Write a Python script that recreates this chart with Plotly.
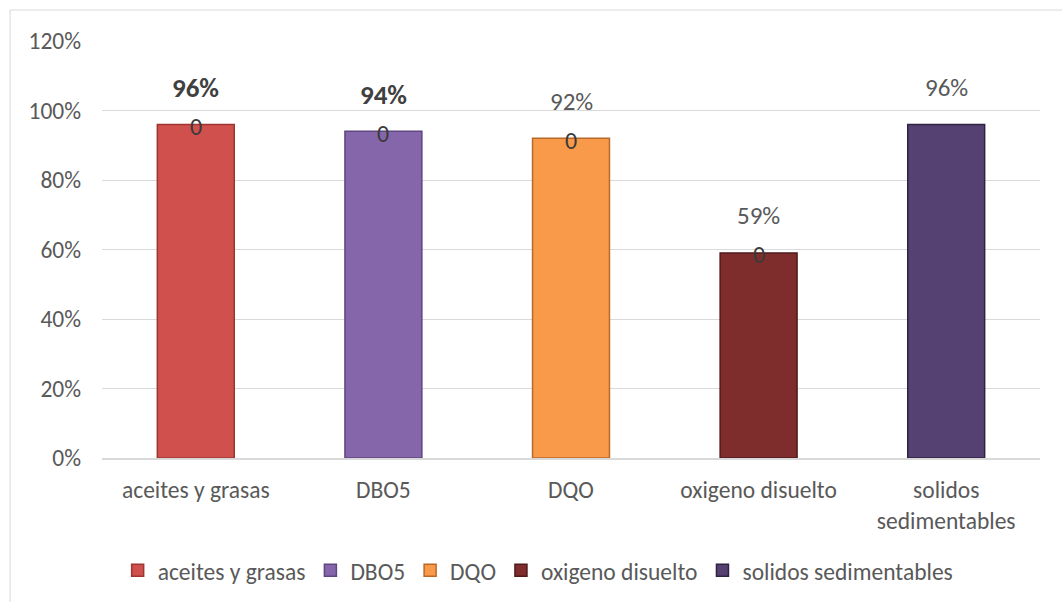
import plotly.graph_objects as go

categories = ["aceites y grasas", "DBO5", "DQO", "oxigeno disuelto", "solidos sedimentables"]
tick_labels = ["aceites y grasas", "DBO5", "DQO", "oxigeno disuelto", "solidos<br>sedimentables"]
values = [0.96, 0.94, 0.92, 0.59, 0.96]
pct_labels = ["96%", "94%", "92%", "59%", "96%"]
pct_bold = [True, True, False, False, False]
zero_labels = ["0", "0", "0", "0", ""]

colors = ["#CF504C", "#8566AA", "#F99A4A", "#7F2D2C", "#564272"]
edge_colors = ["#9E3532", "#5F4680", "#B8692A", "#4E1A19", "#2E2340"]

FONT = "Carlito, Calibri, Lato, sans-serif"
GRAY = "#595959"

fig = go.Figure()
for i, cat in enumerate(categories):
    fig.add_trace(go.Bar(
        x=[tick_labels[i]], y=[values[i]], name=cat,
        marker=dict(color=colors[i], line=dict(color=edge_colors[i], width=1.5)),
        width=0.41, showlegend=True, hoverinfo="y",
    ))

annotations = []
for i in range(len(categories)):
    annotations.append(dict(
        x=tick_labels[i], y=values[i], xref="x", yref="y",
        text=f"<b>{pct_labels[i]}</b>" if pct_bold[i] else pct_labels[i],
        showarrow=False, yshift=37,
        font=dict(family=FONT, size=27 if pct_bold[i] else 25,
                  color="#404040" if pct_bold[i] else GRAY),
    ))
    if zero_labels[i]:
        annotations.append(dict(
            x=tick_labels[i], y=values[i], xref="x", yref="y",
            text=zero_labels[i], showarrow=False, yshift=-2,
            font=dict(family=FONT, size=24, color="#3A3A3A"),
        ))

fig.update_layout(
    width=1062, height=602,
    margin=dict(l=102, r=22, t=41, b=144, autoexpand=False),
    barmode="overlay",
    plot_bgcolor="white", paper_bgcolor="white",
    font=dict(family=FONT, size=23.5, color=GRAY),
    annotations=annotations,
    legend=dict(orientation="h", x=0.465, xanchor="center", y=-0.27, yanchor="middle",
                font=dict(family=FONT, size=23.5, color=GRAY), traceorder="normal",
                itemwidth=30),
    shapes=[dict(type="rect", xref="paper", yref="paper",
                 x0=-0.098, x1=1.04, y0=-0.37, y1=1.0743,
                 line=dict(color="#D9D9D9", width=1), layer="below")],
    bargap=0.59,
)
fig.update_yaxes(range=[0, 1.2], dtick=0.2, tickformat=".0%", showgrid=True,
                 gridcolor="#D9D9D9", gridwidth=1, zeroline=False, showline=False,
                 ticks="", ticklen=0, tickfont=dict(family=FONT, size=23.5, color=GRAY),
                 ticklabelstandoff=20, automargin=False)
fig.update_xaxes(showgrid=False, showline=True, linecolor="#D9D9D9", linewidth=2,
                 ticks="", tickfont=dict(family=FONT, size=23.5, color=GRAY),
                 ticklabelstandoff=10, automargin=False,
                 categoryorder="array", categoryarray=tick_labels)

fig.write_html("out.html")
